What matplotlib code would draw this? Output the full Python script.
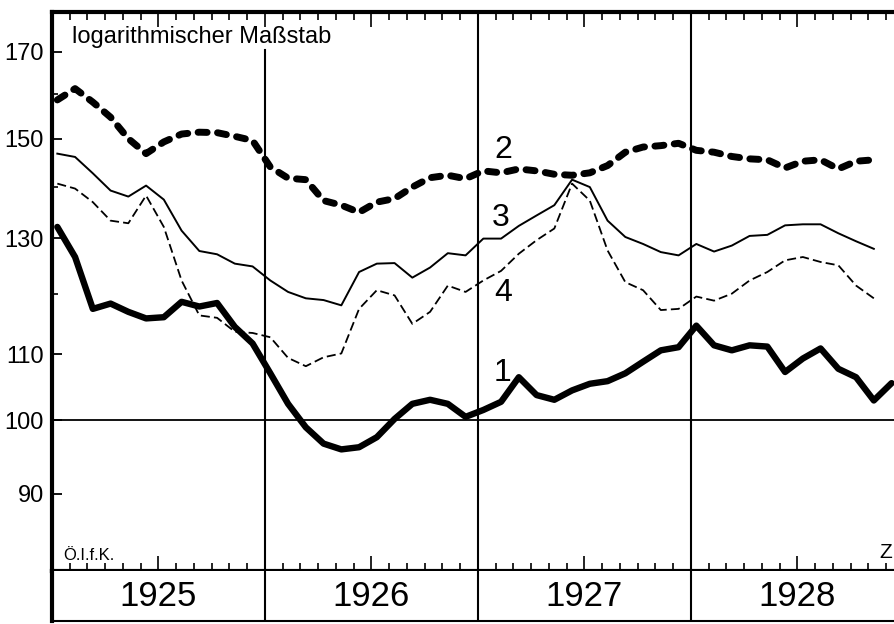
import numpy as np
import matplotlib
matplotlib.use('Agg')
import matplotlib.pyplot as plt
from matplotlib.ticker import FixedLocator, MultipleLocator, NullFormatter

plt.rcParams['font.family'] = ['Liberation Sans', 'DejaVu Sans']

years = ['1925', '1926', '1927', '1928']

# monthly values, Jan 1925 onwards (log scale chart)
s1 = [132.1, 126.5, 117.4, 118.3, 116.9, 115.8, 116.0, 118.6, 117.8, 118.4, 114.4, 111.7,
      107.0, 102.4, 99.0, 96.7, 95.9, 96.2, 97.6, 100.2, 102.4, 103.0, 102.4, 100.5,
      101.5, 102.7, 106.4, 103.7, 103.0, 104.4, 105.4, 105.8, 107.0, 108.8, 110.6, 111.1,
      114.6, 111.4, 110.6, 111.4, 111.2, 107.2, 109.3, 110.9, 107.7, 106.4, 102.9, 105.5]
s2 = [158.6, 161.2, 158.1, 154.7, 150.0, 146.8, 149.3, 151.0, 151.4, 151.3, 150.5, 149.6,
      144.0, 141.7, 141.4, 137.2, 136.3, 134.9, 136.9, 137.6, 139.9, 141.8, 142.3, 141.6,
      143.2, 142.8, 143.6, 143.2, 142.5, 142.3, 142.8, 144.3, 147.1, 148.2, 148.5, 149.0,
      147.5, 147.1, 146.2, 145.7, 145.5, 143.8, 145.2, 145.5, 143.6, 145.2, 145.5]
s3 = [146.8, 146.1, 142.7, 139.2, 138.0, 140.2, 137.4, 131.4, 127.6, 127.0, 125.3, 124.8,
      122.3, 120.3, 119.2, 118.9, 118.0, 123.8, 125.3, 125.4, 122.8, 124.6, 127.2, 126.8,
      129.9, 129.9, 132.3, 134.3, 136.3, 141.4, 139.9, 133.3, 130.2, 128.9, 127.4, 126.8,
      128.9, 127.5, 128.6, 130.4, 130.6, 132.4, 132.6, 132.6, 130.9, 129.4, 128.0]
s4 = [140.6, 139.6, 136.9, 133.3, 132.8, 138.2, 132.1, 122.3, 116.3, 115.9, 113.6, 113.4,
      112.7, 109.4, 108.1, 109.5, 110.1, 117.4, 120.6, 119.7, 114.9, 116.9, 121.4, 120.3,
      122.3, 124.0, 127.1, 129.6, 131.8, 140.6, 137.2, 127.7, 122.0, 120.6, 117.2, 117.4,
      119.5, 118.8, 120.0, 122.3, 123.8, 125.9, 126.5, 125.6, 125.0, 121.4, 119.2]

y_ticks = [90, 100, 110, 130, 150, 170]
y_minor = [120, 140, 160]


def months(s):
    # points sit a little after the start of each month
    return np.arange(len(s)) + 0.3


W, H = 895, 624
fig = plt.figure(figsize=(W / 100, H / 100), dpi=100)
ax = fig.add_axes([52 / W, 53 / H, 852 / W, 559 / H])
band = fig.add_axes([52 / W, 3 / H, 852 / W, 50 / H], sharex=ax)

ax.set_yscale('log')
ax.set_ylim(80.5, 180)
ax.set_xlim(0, 48)

# curves
ax.plot(months(s1), s1, color='black', lw=4.6, solid_capstyle='round', solid_joinstyle='round')
ax.plot(months(s2), s2, color='black', lw=5, linestyle=(0, (1.3, 1.5)), dash_capstyle='round')
ax.plot(months(s3), s3, color='black', lw=1.4)
ax.plot(months(s4), s4, color='black', lw=1.3, linestyle=(0, (5, 2.3)))

# grid: 100 line and year dividers
ax.axhline(100, color='black', lw=1.3)
ax.axvline(12, ymax=0.932, color='black', lw=1.5)
for m in [24, 36]:
    ax.axvline(m, color='black', lw=1.5)

# y axis
ax.yaxis.set_major_locator(FixedLocator(y_ticks))
ax.yaxis.set_major_formatter(plt.FixedFormatter([str(v) for v in y_ticks]))
ax.yaxis.set_minor_locator(FixedLocator(y_minor))
ax.yaxis.set_minor_formatter(NullFormatter())
ax.tick_params(axis='y', which='major', direction='in', length=7, width=1.3,
               labelsize=17, pad=6, right=False)
ax.tick_params(axis='y', which='minor', direction='in', length=4, width=1.2, right=False)

# x axis: month ticks top and bottom, longer at mid-year
ax.xaxis.set_major_locator(MultipleLocator(6))
ax.xaxis.set_minor_locator(MultipleLocator(1))
ax.tick_params(axis='x', which='both', direction='in', top=True, bottom=True,
               labelbottom=False, width=1.2)
ax.tick_params(axis='x', which='major', length=11)
ax.tick_params(axis='x', which='minor', length=6)

for side in ['left', 'top', 'bottom']:
    ax.spines[side].set_linewidth(3)
ax.spines['right'].set_visible(False)

# series numbers and notes
ax.text(25.4, 147.5, '2', fontsize=23, ha='center', va='center')
ax.text(25.3, 133.9, '3', fontsize=23, ha='center', va='center')
ax.text(25.4, 120.2, '4', fontsize=23, ha='center', va='center')
ax.text(25.4, 107.1, '1', fontsize=23, ha='center', va='center')

fig.text(72 / W, 1 - 43 / H, 'logarithmischer Maßstab', fontsize=17, va='baseline')
fig.text(63 / W, 1 - 560 / H, 'Ö.I.f.K.', fontsize=12, va='baseline')
fig.text(892 / W, 1 - 558 / H, 'Z', fontsize=15, ha='right', va='baseline')

# year band below the axis
band.set_ylim(0, 1)
band.set_yticks([])
band.tick_params(axis='x', which='both', bottom=False, top=False, labelbottom=False)
for m in [12, 24, 36]:
    band.axvline(m, color='black', lw=1.5)
for k, yr in enumerate(years):
    band.text(6 + 12 * k, 0.48, yr, fontsize=25, ha='center', va='center')
band.spines['left'].set_linewidth(3)
band.spines['bottom'].set_linewidth(1.5)
band.spines['top'].set_visible(False)
band.spines['right'].set_visible(False)

fig.savefig('out.png', dpi=100)
